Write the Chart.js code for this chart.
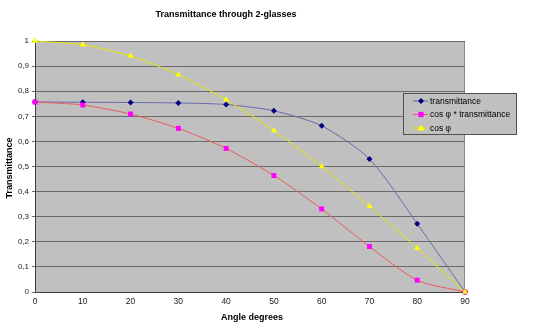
<!DOCTYPE html>
<html>
<head>
<meta charset="utf-8">
<script src="https://cdn.jsdelivr.net/npm/chart.js@4/dist/chart.umd.min.js"></script>
<style>
  html, body { margin: 0; padding: 0; background: #fff; }
  #wrap { width: 542px; height: 331px; position: relative; }
</style>
</head>
<body>
<div id="wrap"><canvas id="c" width="542" height="331"></canvas></div>
<script>
// Angle of incidence (degrees)
const angles = [0, 10, 20, 30, 40, 50, 60, 70, 80, 90];
// Transmittance through two glass plates
const transmittance = [0.757, 0.756, 0.755, 0.753, 0.747, 0.722, 0.662, 0.53, 0.272, 0];
// cos φ weighted transmittance
const cosTransmittance = [0.757, 0.745, 0.709, 0.652, 0.572, 0.464, 0.331, 0.181, 0.047, 0];
// cos φ
const cosPhi = [1, 0.985, 0.94, 0.866, 0.766, 0.643, 0.5, 0.342, 0.174, 0];
const yTicks = [0, 0.1, 0.2, 0.3, 0.4, 0.5, 0.6, 0.7, 0.8, 0.9, 1];
const seriesNames = ['transmittance', 'cos \u03c6 * transmittance', 'cos \u03c6'];

const FONT = '"Liberation Sans", Arial, sans-serif';
const toPoints = ys => angles.map((a, i) => ({ x: a, y: ys[i] }));

// Grey plot background plus frame
const plotBackground = {
  id: 'plotBackground',
  beforeDraw(chart) {
    const { ctx, chartArea: a } = chart;
    ctx.save();
    ctx.fillStyle = '#c0c0c0';
    ctx.fillRect(a.left, a.top, a.right - a.left, a.bottom - a.top);
    ctx.strokeStyle = '#8a8a8a';
    ctx.lineWidth = 1;
    ctx.strokeRect(a.left + 0.5, a.top + 0.5, a.right - a.left - 1, a.bottom - a.top);
    ctx.restore();
  }
};

// Title and axis titles
const titles = {
  id: 'titles',
  afterDraw(chart) {
    const { ctx } = chart;
    ctx.save();
    ctx.fillStyle = '#000';
    ctx.textAlign = 'center';
    ctx.textBaseline = 'middle';
    ctx.font = 'bold 9px ' + FONT;
    ctx.fillText('Transmittance through 2-glasses', 226, 15);
    ctx.fillText('Angle degrees', 252, 318);
    ctx.translate(10, 168);
    ctx.rotate(-Math.PI / 2);
    ctx.fillText('Transmittance', 0, 0);
    ctx.restore();
  }
};

// Boxed legend beside the plot
const boxLegend = {
  id: 'boxLegend',
  afterDraw(chart) {
    const { ctx } = chart;
    const x0 = 403, y0 = 93, w = 113, h = 41;
    ctx.save();
    ctx.fillStyle = '#c0c0c0';
    ctx.fillRect(x0, y0, w, h);
    ctx.strokeStyle = '#505050';
    ctx.lineWidth = 1;
    ctx.strokeRect(x0 + 0.5, y0 + 0.5, w, h);
    chart.data.datasets.forEach((ds, i) => {
      const y = 101 + i * 13.5;
      ctx.strokeStyle = ds.borderColor;
      ctx.lineWidth = 1;
      ctx.beginPath();
      ctx.moveTo(413, y);
      ctx.lineTo(428, y);
      ctx.stroke();
      ctx.fillStyle = ds.pointBackgroundColor;
      const r = ds.pointRadius;
      if (ds.pointStyle === 'rectRot') {
        ctx.beginPath();
        ctx.moveTo(421, y - r); ctx.lineTo(421 + r, y); ctx.lineTo(421, y + r); ctx.lineTo(421 - r, y);
        ctx.closePath(); ctx.fill();
      } else if (ds.pointStyle === 'rect') {
        ctx.fillRect(421 - r * 0.75, y - r * 0.75, r * 1.5, r * 1.5);
      } else {
        ctx.beginPath();
        ctx.moveTo(421, y - r); ctx.lineTo(421 + r, y + r * 0.7); ctx.lineTo(421 - r, y + r * 0.7);
        ctx.closePath(); ctx.fill();
      }
      ctx.fillStyle = '#000';
      ctx.font = '8.5px ' + FONT;
      ctx.textAlign = 'left';
      ctx.textBaseline = 'middle';
      ctx.fillText(ds.label, 430, y + 0.5);
    });
    ctx.restore();
  }
};

new Chart(document.getElementById('c'), {
  type: 'line',
  data: {
    datasets: [
      {
        label: seriesNames[0],
        data: toPoints(transmittance),
        order: 2,
        borderColor: '#6a6aa8',
        borderWidth: 1,
        pointStyle: 'rectRot',
        pointRadius: 3,
        pointBackgroundColor: '#000080',
        pointBorderColor: '#000080',
        pointBorderWidth: 0,
        tension: 0.25,
        clip: false
      },
      {
        label: seriesNames[1],
        data: toPoints(cosTransmittance),
        order: 1,
        borderColor: '#f05a5a',
        borderWidth: 1,
        pointStyle: 'rect',
        pointRadius: 3.5,
        pointBackgroundColor: '#ff00ff',
        pointBorderColor: '#ff00ff',
        pointBorderWidth: 0,
        tension: 0.25,
        clip: false
      },
      {
        label: seriesNames[2],
        data: toPoints(cosPhi),
        order: 0,
        borderColor: '#e8e800',
        borderWidth: 1,
        pointStyle: 'triangle',
        pointRadius: 3.5,
        pointBackgroundColor: '#ffff00',
        pointBorderColor: '#ffff00',
        pointBorderWidth: 0,
        tension: 0.25,
        clip: false
      }
    ]
  },
  options: {
    responsive: false,
    animation: false,
    layout: { padding: { left: 8, right: 77, top: 41, bottom: 25 } },
    plugins: {
      legend: { display: false },
      tooltip: { enabled: false },
      title: { display: false }
    },
    scales: {
      x: {
        type: 'linear',
        min: 0, max: 90,
        afterBuildTicks: s => { s.ticks = angles.map(v => ({ value: v })); },
        afterFit: s => { s.height = 14; },
        grid: { display: false, drawTicks: true, tickLength: 3, color: '#404040' },
        border: { display: true, color: '#404040', width: 1 },
        ticks: { color: '#202020', font: { family: FONT, size: 8.5 }, padding: 2, maxRotation: 0 }
      },
      y: {
        min: 0, max: 1,
        afterBuildTicks: s => { s.ticks = yTicks.map(v => ({ value: v })); },
        afterFit: s => { s.width = 27; },
        grid: { color: '#6a6a6a', lineWidth: 1, drawTicks: true, tickLength: 3 },
        border: { display: true, color: '#404040', width: 1 },
        ticks: {
          color: '#202020',
          font: { family: FONT, size: 8 },
          padding: 3,
          callback: v => String(v).replace('.', ',')
        }
      }
    }
  },
  plugins: [plotBackground, titles, boxLegend]
});
</script>
</body>
</html>
